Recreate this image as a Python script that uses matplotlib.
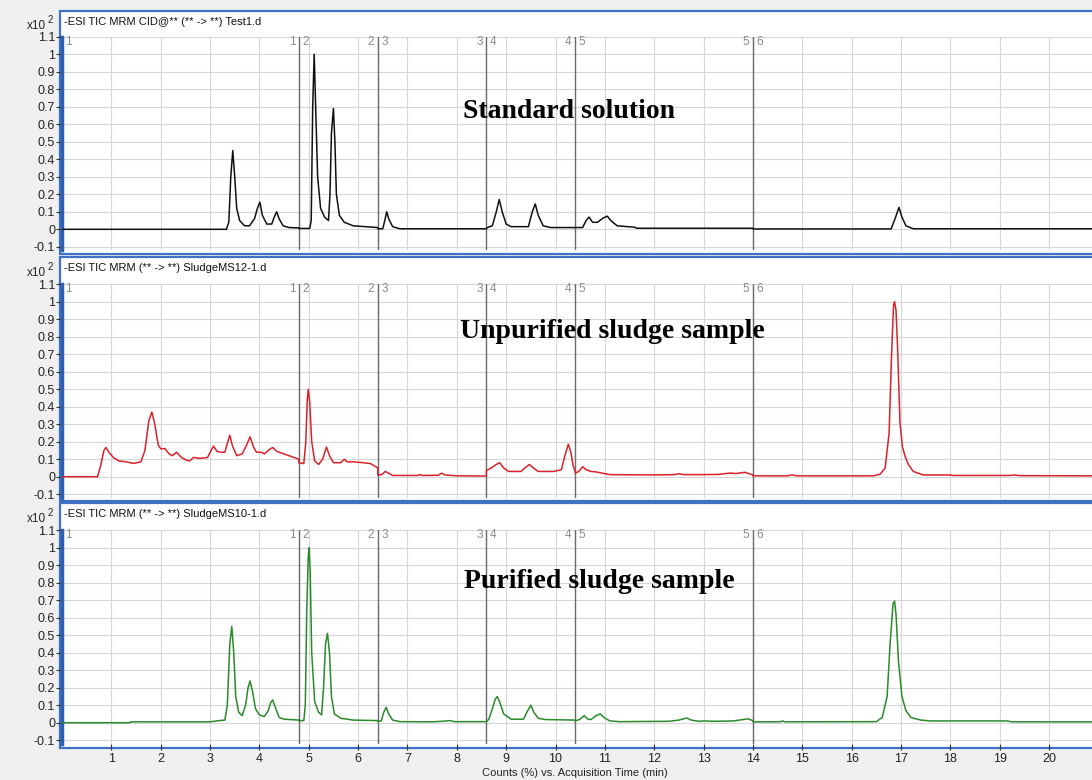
import numpy as np
import matplotlib
matplotlib.use("Agg")
import matplotlib.pyplot as plt
from matplotlib.patches import Rectangle

plt.rcParams['font.family'] = ['Liberation Sans', 'DejaVu Sans']

# ---- data (time in min, counts x10^2) ----
std_t = [0, 3.33, 3.38, 3.42, 3.46, 3.50, 3.54, 3.60, 3.70, 3.80, 3.90, 3.96, 4.01, 4.06,
         4.15, 4.25, 4.30, 4.35, 4.40, 4.48, 4.60, 4.80, 4.80, 5.02, 5.05, 5.08, 5.11, 5.14,
         5.18, 5.24, 5.32, 5.40, 5.43, 5.46, 5.50, 5.53, 5.56, 5.62, 5.72, 5.90, 6.40, 6.40,
         6.50, 6.54, 6.58, 6.62, 6.70, 6.85, 8.60, 8.62, 8.72, 8.80, 8.86, 8.92, 9.00, 9.10,
         9.45, 9.53, 9.59, 9.65, 9.75, 9.90, 10.40, 10.55, 10.62, 10.68, 10.75, 10.85, 10.97,
         11.05, 11.12, 11.25, 11.60, 11.65, 14.00, 14.00, 16.80, 16.88, 16.96, 17.02, 17.10,
         17.25, 20.9]
std_v = [0, 0, 0.04, 0.30, 0.45, 0.30, 0.12, 0.05, 0.02, 0.02, 0.06, 0.12, 0.155, 0.08,
         0.03, 0.03, 0.07, 0.10, 0.06, 0.02, 0.01, 0.008, 0.005, 0.005, 0.05, 0.70, 1.00, 0.70,
         0.30, 0.12, 0.07, 0.05, 0.20, 0.55, 0.69, 0.50, 0.20, 0.08, 0.04, 0.02, 0.01, 0.003,
         0.003, 0.05, 0.10, 0.06, 0.015, 0.003, 0.003, 0.01, 0.02, 0.10, 0.17, 0.10, 0.03, 0.015,
         0.015, 0.10, 0.145, 0.08, 0.02, 0.01, 0.01, 0.01, 0.05, 0.07, 0.04, 0.04, 0.065,
         0.075, 0.05, 0.02, 0.012, 0.006, 0.006, 0.002, 0.002, 0.06, 0.125, 0.07, 0.02,
         0.003, 0.003]

unp_t = [0, 0.72, 0.78, 0.85, 0.89, 0.95, 1.04, 1.15, 1.30, 1.45, 1.60, 1.68, 1.76, 1.82,
         1.88, 1.95, 2.00, 2.09, 2.17, 2.24, 2.32, 2.42, 2.52, 2.59, 2.66, 2.80, 2.95, 3.02,
         3.07, 3.14, 3.22, 3.30, 3.36, 3.40, 3.45, 3.54, 3.65, 3.74, 3.81, 3.88, 3.94, 4.04,
         4.10, 4.20, 4.27, 4.35, 4.50, 4.65, 4.80, 4.80, 4.90, 4.94, 4.97, 4.99, 5.02, 5.06,
         5.12, 5.20, 5.28, 5.36, 5.42, 5.50, 5.65, 5.72, 5.78, 5.90, 6.10, 6.25, 6.40, 6.40,
         6.48, 6.55, 6.62, 6.70, 7.20, 7.25, 7.30, 7.62, 7.69, 7.76, 8.0, 8.6, 8.6, 8.70,
         8.80, 8.87, 8.95, 9.05, 9.30, 9.40, 9.47, 9.55, 9.65, 9.95, 10.05, 10.12, 10.19,
         10.26, 10.31, 10.36, 10.40, 10.40, 10.47, 10.55, 10.62, 10.72, 10.83, 10.95, 11.1,
         12.0, 12.4, 12.5, 12.6, 13.0, 13.3, 13.54, 13.65, 13.84, 13.95, 14.0, 14.0, 14.7,
         14.79, 14.9, 16.45, 16.58, 16.68, 16.76, 16.81, 16.85, 16.87, 16.90, 16.93, 16.98,
         17.03, 17.08, 17.15, 17.25, 17.45, 18.0, 18.05, 19.2, 19.3, 19.4, 20.9]
unp_v = [0, 0, 0.06, 0.15, 0.167, 0.14, 0.11, 0.09, 0.085, 0.076, 0.085, 0.15, 0.32, 0.37,
         0.30, 0.18, 0.16, 0.16, 0.13, 0.12, 0.14, 0.11, 0.095, 0.09, 0.11, 0.105, 0.11, 0.15,
         0.175, 0.145, 0.14, 0.14, 0.20, 0.237, 0.18, 0.12, 0.13, 0.18, 0.228, 0.17, 0.14, 0.14,
         0.13, 0.155, 0.167, 0.145, 0.13, 0.115, 0.10, 0.08, 0.075, 0.20, 0.44, 0.50, 0.42, 0.20,
         0.09, 0.07, 0.10, 0.17, 0.12, 0.08, 0.08, 0.10, 0.085, 0.085, 0.08, 0.075, 0.05, 0.01,
         0.012, 0.03, 0.02, 0.007, 0.007, 0.012, 0.007, 0.008, 0.02, 0.01, 0.005, 0.004, 0.035, 0.05,
         0.07, 0.08, 0.05, 0.03, 0.03, 0.055, 0.07, 0.05, 0.03, 0.03, 0.035, 0.04, 0.12,
         0.186, 0.14, 0.06, 0.03, 0.02, 0.03, 0.057, 0.04, 0.03, 0.027, 0.02, 0.012,
         0.01, 0.012, 0.017, 0.012, 0.012, 0.013, 0.021, 0.018, 0.025, 0.015, 0.01, 0.005, 0.005,
         0.01, 0.005, 0.005, 0.015, 0.05, 0.25, 0.70, 0.98, 1.00, 0.95, 0.75, 0.31,
         0.17, 0.12, 0.07, 0.03, 0.01, 0.01, 0.007, 0.007, 0.01, 0.006, 0.005]

pur_t = [0, 1.38, 1.40, 3.0, 3.16, 3.30, 3.35, 3.40, 3.44, 3.48, 3.52, 3.58, 3.65, 3.72,
         3.77, 3.81, 3.86, 3.92, 4.00, 4.10, 4.18, 4.23, 4.27, 4.32, 4.40, 4.50, 4.80, 4.80,
         4.90, 4.93, 4.96, 4.99, 5.01, 5.03, 5.06, 5.12, 5.20, 5.26, 5.30, 5.34, 5.38, 5.42,
         5.46, 5.52, 5.65, 5.90, 6.40, 6.40, 6.47, 6.52, 6.57, 6.62, 6.70, 6.85, 7.5, 7.7,
         7.86, 7.95, 8.6, 8.65, 8.72, 8.78, 8.82, 8.88, 8.95, 9.10, 9.35, 9.42, 9.50, 9.56,
         9.65, 9.80, 10.40, 10.40, 10.50, 10.58, 10.66, 10.72, 10.82, 10.91, 10.98, 11.10,
         11.3, 12.3, 12.5, 12.66, 12.75, 12.9, 13.0, 13.2, 13.6, 13.9, 14.0, 14.0, 14.55,
         14.6, 14.65, 16.5, 16.62, 16.72, 16.78, 16.84, 16.87, 16.90, 16.95, 17.02, 17.10,
         17.2, 17.4, 17.6, 19.15, 19.25, 20.9]
pur_v = [0, 0, 0.005, 0.005, 0.011, 0.015, 0.10, 0.45, 0.55, 0.40, 0.15, 0.06, 0.04, 0.10,
         0.20, 0.238, 0.18, 0.08, 0.045, 0.035, 0.07, 0.115, 0.13, 0.09, 0.03, 0.02, 0.015, 0.012,
         0.012, 0.10, 0.65, 0.95, 1.00, 0.85, 0.40, 0.12, 0.06, 0.045, 0.20, 0.45, 0.51, 0.40,
         0.15, 0.05, 0.025, 0.015, 0.012, 0.008, 0.01, 0.06, 0.088, 0.05, 0.015, 0.006, 0.005, 0.008,
         0.012, 0.006, 0.006, 0.02, 0.08, 0.135, 0.15, 0.11, 0.05, 0.02, 0.02, 0.06, 0.10, 0.06,
         0.025, 0.018, 0.015, 0.01, 0.02, 0.04, 0.02, 0.018, 0.04, 0.05, 0.03, 0.01,
         0.006, 0.008, 0.015, 0.027, 0.015, 0.008, 0.01, 0.008, 0.01, 0.022, 0.012, 0.005, 0.005,
         0.01, 0.005, 0.006, 0.03, 0.15, 0.45, 0.68, 0.695, 0.62, 0.35, 0.15, 0.07,
         0.03, 0.015, 0.01, 0.01, 0.005, 0.005]

segment_bounds = [4.8, 6.4, 8.6, 10.4, 14.0]
segment_ids = ['1', '2', '3', '4', '5', '6']
yticks = [-0.1, 0, 0.1, 0.2, 0.3, 0.4, 0.5, 0.6, 0.7, 0.8, 0.9, 1, 1.1]
ytick_labels = ['-0.1', '0', '0.1', '0.2', '0.3', '0.4', '0.5', '0.6', '0.7', '0.8', '0.9', '1', '1.1']
xticks = list(range(1, 21))

titles = ['-ESI TIC MRM CID@** (** -> **) Test1.d',
          '-ESI TIC MRM (** -> **) SludgeMS12-1.d',
          '-ESI TIC MRM (** -> **) SludgeMS10-1.d']
labels = ['Standard solution', 'Unpurified sludge sample', 'Purified sludge sample']
colors = ['#111111', '#d8232a', '#2a8a2a']
traces = [(std_t, std_v), (unp_t, unp_v), (pur_t, pur_v)]

# ---- layout in pixels ----
W, H = 1092, 780
zero_px = [229.3, 476.7, 722.7]
frame_top = [11, 257, 503]
frame_bot = [254, 501, 748]
label_xy = [(463, 118), (460, 338), (464, 588)]
px_per_unit = 175.0
x_left, x_right = 62, 1092
xmax = (x_right - x_left) / 49.35

fig = plt.figure(figsize=(W / 100, H / 100), dpi=100)
fig.patch.set_facecolor('#f0f0f0')

for i in range(3):
    # blue window frame, behind the axes
    fig.patches.append(Rectangle((60 / W, 1 - frame_bot[i] / H), (1100 - 60) / W,
                                 (frame_bot[i] - frame_top[i]) / H, transform=fig.transFigure,
                                 facecolor='white', edgecolor='#3f72c4', lw=1.6, zorder=-5))
    top = zero_px[i] - 1.1 * px_per_unit
    bot = zero_px[i] + 0.12 * px_per_unit
    ax = fig.add_axes([x_left / W, 1 - bot / H, (x_right - x_left) / W, (bot - top) / H])
    ax.set_zorder(1)
    ax.set_facecolor('white')
    t, v = traces[i]
    ax.plot(t, v, color=colors[i], lw=1.1, zorder=3)
    ax.set_xlim(0, xmax)
    ax.set_ylim(-0.12, 1.1)
    ax.set_yticks(yticks)
    ax.set_yticklabels(ytick_labels)
    ax.set_xticks(xticks)
    ax.grid(True, color='#d6d6d6', lw=0.8, zorder=0)
    ax.set_axisbelow(True)
    for s in ['top', 'right', 'bottom']:
        ax.spines[s].set_visible(False)
    ax.spines['left'].set_color('#2f5fae')
    ax.spines['left'].set_linewidth(2.5)
    ax.tick_params(axis='y', direction='out', length=4, width=0.8, color='#333333',
                   labelsize=9, labelcolor='#222222', pad=1)
    if i < 2:
        ax.tick_params(axis='x', bottom=False, labelbottom=False)
    else:
        ax.tick_params(axis='x', direction='out', length=4, width=0.8, color='#333333',
                       labelsize=9, labelcolor='#222222', pad=3)

    for b in segment_bounds:
        ax.axvline(b, color='#6a6a6a', lw=1.0, zorder=2)
    ax.text(0.06, 1.07, segment_ids[0], color='#8c8c8c', fontsize=8.5, va='center', ha='left')
    for k, b in enumerate(segment_bounds):
        ax.text(b - 0.07, 1.07, segment_ids[k], color='#8c8c8c', fontsize=8.5, va='center', ha='right')
        ax.text(b + 0.07, 1.07, segment_ids[k + 1], color='#8c8c8c', fontsize=8.5, va='center', ha='left')

    fig.text(64 / W, 1 - (frame_top[i] + 11) / H, titles[i], fontsize=8, va='center', ha='left',
             color='#111111')
    fig.text(46 / W, 1 - (top - 11) / H, 'x10', fontsize=8.5, va='center', ha='right', color='#222222')
    fig.text(48 / W, 1 - (top - 17) / H, '2', fontsize=7, va='center', ha='left', color='#222222')
    ax.text((label_xy[i][0] - x_left) / (x_right - x_left), (bot - label_xy[i][1]) / (bot - top),
            labels[i], transform=ax.transAxes, fontsize=20, zorder=5,
            family=['Liberation Serif', 'DejaVu Serif'], weight='bold', va='baseline', ha='left')

fig.text(575 / W, 1 - 773 / H, 'Counts (%) vs. Acquisition Time (min)', fontsize=8,
         ha='center', va='center', color='#222222')

fig.savefig('out.png', dpi=100, facecolor=fig.get_facecolor())
